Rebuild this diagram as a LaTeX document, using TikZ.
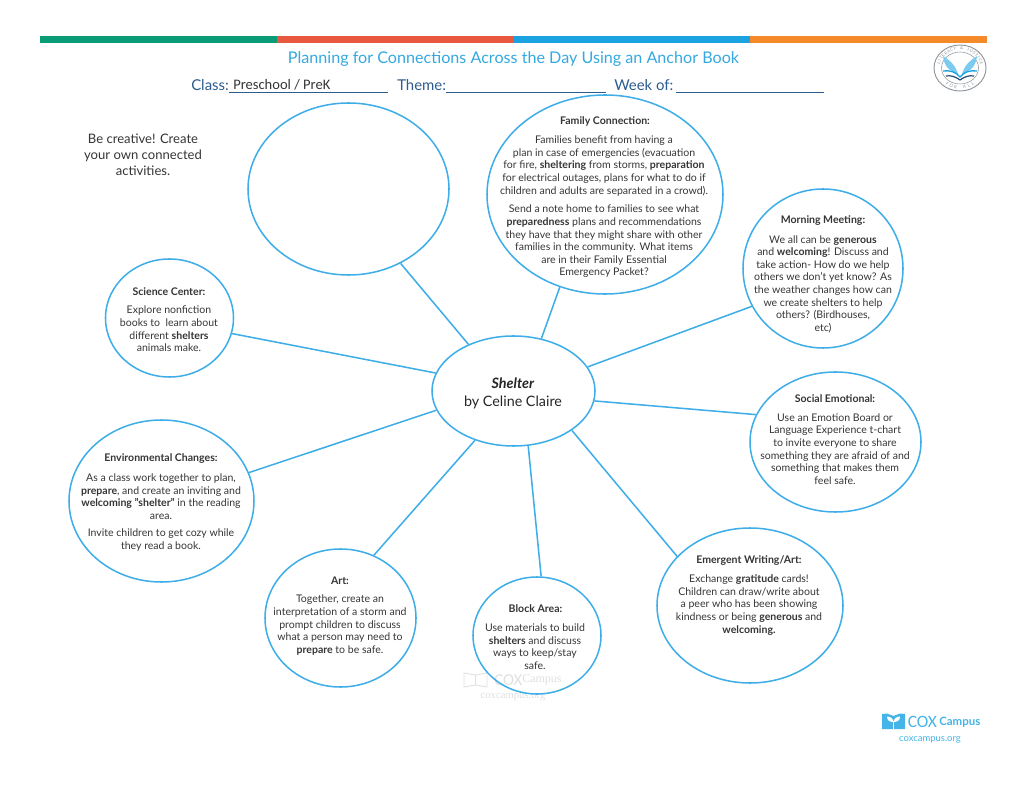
\documentclass[tikz,border=0pt]{standalone}
\usepackage{fontspec}
\setmainfont{Lato}
\newfontfamily\carl{Carlito}
\newfontfamily\serifwm{Liberation Serif}
\usetikzlibrary{shapes.geometric}
\definecolor{bluec}{HTML}{3FAEE8}
\definecolor{titlec}{HTML}{35A8E0}
\definecolor{navyc}{HTML}{2B5C8F}
\definecolor{textc}{HTML}{353535}
\definecolor{barg}{HTML}{0A9B77}
\definecolor{barr}{HTML}{E8583F}
\definecolor{barb}{HTML}{1AA3E0}
\definecolor{baro}{HTML}{F58A2A}
\definecolor{logoc}{HTML}{45B4E8}
\definecolor{wmc}{HTML}{E0E0E0}
\definecolor{embc}{HTML}{8E959C}
\tikzset{
 bub/.style={draw=bluec,line width=1.15pt,ellipse,inner sep=0pt},
 conn/.style={draw=bluec,line width=1.15pt},
 txt/.style={align=center,text=textc,inner sep=0pt,font=\fontsize{7.9}{9.45}\selectfont},
 hdr/.style={text=navyc,inner sep=0pt,anchor=base west,font=\fontsize{11.2}{13}\selectfont},
 rul/.style={draw=navyc,line width=0.6pt},
 barseg/.style={fill=#1,draw=none},
 emb/.style={inner sep=0pt,text=embc,font=\fontsize{3.2}{3.2}\selectfont},
}
\newcommand{\bb}[1]{\textbf{#1}}
\begin{document}
\begin{tikzpicture}[x=0.75pt,y=-0.75pt]
\useasboundingbox (0,0) rectangle (1024,791);
% top bar
\fill[barseg=barg] (40,36) rectangle (277,43);
\fill[barseg=barr] (277,36) rectangle (514,43);
\fill[barseg=barb] (514,36) rectangle (750,43);
\fill[barseg=baro] (750,36) rectangle (987,43);
% header
\node[text=titlec,inner sep=0pt,font=\fontsize{12.1}{14}\selectfont] (title) at (513.5,58.8) {Planning for Connections Across the Day Using an Anchor Book};
\node[hdr] (cl) at (191,90.5) {Class:};
\node[hdr] (th) at (397,90.5) {Theme:};
\node[hdr] (wk) at (614,90.5) {Week of:};
\node[inner sep=0pt,anchor=base west,text=textc,font=\carl\fontsize{10.9}{12}\selectfont] (pk) at (233,90) {Preschool / PreK};
\draw[rul] (229,92.5) -- (388,92.5);
\draw[rul] (446,92.5) -- (606,92.5);
\draw[rul] (676,92.5) -- (824,92.5);
% watermark
\draw[wmc,line width=0.7pt] (464,673) -- (464,687) -- (475.5,685) -- (487,687) -- (487,673) -- (475.5,675) -- cycle;
\draw[wmc,line width=0.6pt] (475.5,675) -- (475.5,685);
\node[inner sep=0pt,text=wmc,anchor=west,font=\carl\fontsize{12.5}{14}\selectfont] (wm1) at (494,680) {COX};
\node[inner sep=0pt,text=wmc,anchor=west,font=\serifwm\fontsize{9}{11}\selectfont] (wm2) at (522,680) {Campus};
\node[inner sep=0pt,text=wmc,font=\serifwm\fontsize{8}{10}\selectfont] (wm3) at (513,697) {coxcampus.org};
% bubbles
\node[bub,minimum width=122.25pt,minimum height=82.5pt] (main) at (513.5,391) {};
\node[bub,minimum width=150.75pt,minimum height=129pt] (blank) at (348.5,189) {};
\node[bub,minimum width=177pt,minimum height=149.25pt] (fam) at (605,194.5) {};
\node[bub,minimum width=120pt,minimum height=119.25pt] (morn) at (823,268.5) {};
\node[bub,minimum width=128.25pt,minimum height=105pt] (soc) at (835.5,442) {};
\node[bub,minimum width=139.5pt,minimum height=116.25pt] (emg) at (750,605.5) {};
\node[bub,minimum width=96pt,minimum height=87.75pt] (blk) at (537,635.5) {};
\node[bub,minimum width=113.25pt,minimum height=103.5pt] (art) at (340.5,618) {};
\node[bub,minimum width=138.75pt,minimum height=121.5pt] (env) at (161.5,501) {};
\node[bub,minimum width=96pt,minimum height=88.5pt] (sci) at (169.5,318) {};
% connectors
\draw[conn] (main.134.7) -- (blank.-55.7);
\draw[conn] (main.62.1) -- (fam.244.6);
\draw[conn] (main.18.1) -- (morn.208.8);
\draw[conn] (main.-7.9) -- (soc.161);
\draw[conn] (main.-34.8) -- (emg.146.4);
\draw[conn] (main.-75) -- (blk.86.2);
\draw[conn] (main.232.6) -- (art.62.7);
\draw[conn] (main.194) -- (env.18.5);
\draw[conn] (main.167.6) -- (sci.-14.4);
% main text
\node[align=center,inner sep=0pt,text=black!85,font=\fontsize{10.75}{13.5}\selectfont] (mt) at (513,393.5) {\textbf{\textit{Shelter}}\\by Celine Claire};
% free text
\node[txt,font=\fontsize{9.8}{11.9}\selectfont] (crea) at (143,154.7) {Be creative! Create\\your own connected\\activities.};
% family
\node[txt] (famh) at (605,121) {\bb{Family Connection:}};
\node[txt] (fam1) at (604,166) {Families benefit from having a\\plan in case of emergencies (evacuation\\for fire, \bb{sheltering} from storms, \bb{preparation}\\for electrical outages, plans for what to do if\\children and adults are separated in a crowd).};
\node[txt] (fam2) at (604,241.5) {Send a note home to families to see what\\\bb{preparedness} plans and recommendations\\they have that they might share with other\\families in the community. What items\\are in their Family Essential\\Emergency Packet?};
% morning
\node[txt] (mornh) at (823,221) {\bb{Morning Meeting:}};
\node[txt] (morn1) at (823,284) {We all can be \bb{generous}\\and \bb{welcoming}! Discuss and\\take action- How do we help\\others we don't yet know? As\\the weather changes how can\\we create shelters to help\\others? (Birdhouses,\\etc)};
% social
\node[txt] (soch) at (835,398.5) {\bb{Social Emotional:}};
\node[txt] (soc1) at (835,449) {Use an Emotion Board or\\Language Experience t-chart\\to invite everyone to share\\something they are afraid of and\\something that makes them\\feel safe.};
% emergent
\node[txt] (emgh) at (749,561) {\bb{Emergent Writing/Art:}};
\node[txt] (emg1) at (749,605) {Exchange \bb{gratitude} cards!\\Children can draw/write about\\a peer who has been showing\\kindness or being \bb{generous} and\\\bb{welcoming.}};
% block
\node[txt] (blkh) at (535.5,609) {\bb{Block Area:}};
\node[txt] (blk1) at (535,646.5) {Use materials to build\\\bb{shelters} and discuss\\ways to keep/stay\\safe.};
% art
\node[txt] (arth) at (340,580.5) {\bb{Art:}};
\node[txt] (art1) at (340,625) {Together, create an\\interpretation of a storm and\\prompt children to discuss\\what a person may need to\\\bb{prepare} to be safe.};
% env
\node[txt] (envh) at (161,458.5) {\bb{Environmental Changes:}};
\node[txt] (env1) at (161,496.5) {As a class work together to plan,\\\bb{prepare}, and create an inviting and\\\bb{welcoming "shelter"} in the reading\\area.};
\node[txt] (env2) at (161,540) {Invite children to get cozy while\\they read a book.};
% science
\node[txt] (scih) at (169,291.5) {\bb{Science Center:}};
\node[txt] (sci1) at (169,329) {Explore nonfiction\\books to\ \ learn about\\different \bb{shelters}\\animals make.};
% top-right emblem
\draw[embc,line width=0.7pt] (960,68) ellipse[x radius=26,y radius=23];
\draw[embc,line width=0.4pt] (960,68) ellipse[x radius=18.5,y radius=16];
\foreach \ch [count=\i, evaluate=\i as \a using 165-(\i-1)*150/17] in {L,I,T,E,R,A,C,Y,{},\&,{},J,U,S,T,I,C,E}
  \node[emb,rotate=\a-90] (lt\i) at ({960+22.2*cos(\a)},{68-19.5*sin(\a)}) {\ch};
\foreach \ch [count=\i, evaluate=\i as \a using 235+(\i-1)*70/6] in {F,O,R,{},A,L,L}
  \node[emb,rotate=\a+90] (lb\i) at ({960+22.2*cos(\a)},{68-19.5*sin(\a)}) {\ch};
\fill[logoc!70] (958,74) .. controls (955,64) and (949,60) .. (943,56) .. controls (944,66) and (949,71) .. (958,74);
\fill[logoc!70] (962,74) .. controls (965,64) and (971,60) .. (977,56) .. controls (976,66) and (971,71) .. (962,74);
\draw[barb,line width=1pt] (943,71) .. controls (950,70) and (956,72) .. (960,77) .. controls (964,72) and (970,70) .. (977,71);
\draw[navyc!80!black,line width=0.9pt] (946,76) .. controls (951,75) and (956,77) .. (960,80) .. controls (964,77) and (969,75) .. (974,76);
% bottom-right logo
\fill[logoc] (882,714) -- (887,713.5) -- (893.5,716) -- (900,713.5) -- (905,714) -- (905,729) -- (882,729) -- cycle;
\fill[white] (893.5,722) .. controls (889,722) and (887,720) .. (887,716.5) .. controls (890.5,716.5) and (893,718.5) .. (893.5,722) .. controls (894,718.5) and (896.5,716.5) .. (900,716.5) .. controls (900,720) and (898,722) .. (893.5,722);
\draw[white,line width=0.7pt] (893.5,721) -- (893.5,729);
\node[inner sep=0pt,anchor=west,text=logoc,font=\carl\fontsize{13}{15}\selectfont] (cox) at (907.5,722) {COX};
\node[inner sep=0pt,anchor=west,text=logoc,font=\bfseries\fontsize{8.6}{10}\selectfont] (camp) at (939,722) {Campus};
\node[inner sep=0pt,text=logoc,font=\fontsize{7.1}{9}\selectfont] (url) at (930,739.5) {coxcampus.org};
\end{tikzpicture}
\end{document}
